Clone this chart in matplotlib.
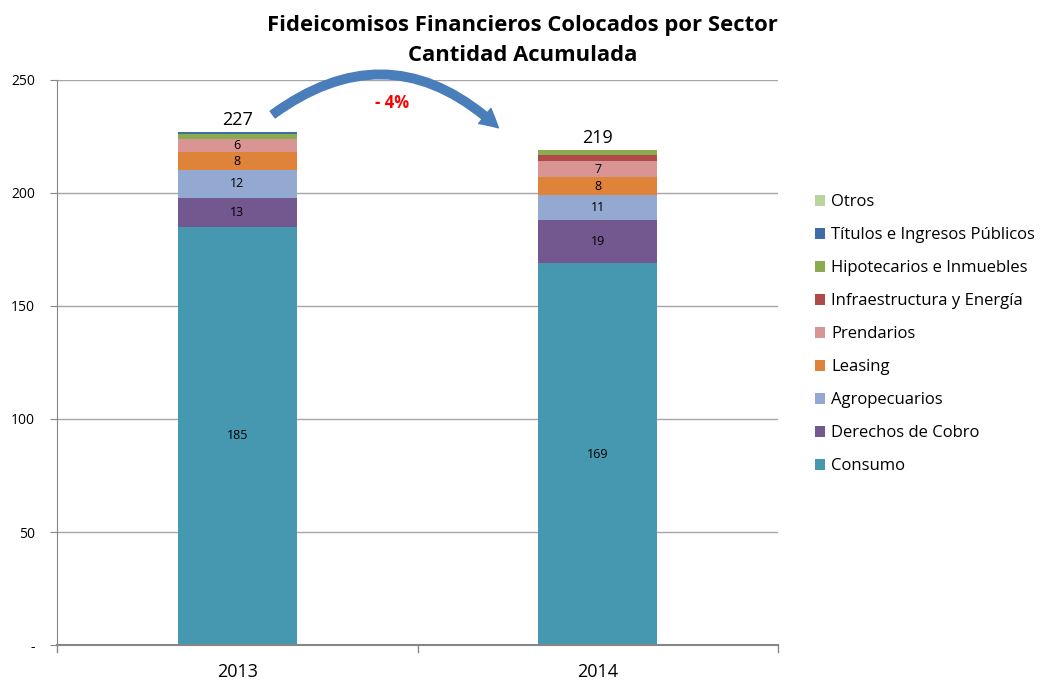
import matplotlib.pyplot as plt
from matplotlib.patches import FancyArrowPatch

plt.rcParams['font.family'] = ['Open Sans', 'DejaVu Sans']

# Datos
years = ['2013', '2014']
sectores = ['Consumo', 'Derechos de Cobro', 'Agropecuarios', 'Leasing', 'Prendarios',
            'Infraestructura y Energía', 'Hipotecarios e Inmuebles',
            'Títulos e Ingresos Públicos', 'Otros']
valores = {
    'Consumo': [185, 169],
    'Derechos de Cobro': [13, 19],
    'Agropecuarios': [12, 11],
    'Leasing': [8, 8],
    'Prendarios': [6, 7],
    'Infraestructura y Energía': [0, 3],
    'Hipotecarios e Inmuebles': [2, 2],
    'Títulos e Ingresos Públicos': [1, 0],
    'Otros': [0, 0],
}
totales = [227, 219]
colores = ['#4598B0', '#72588F', '#94A9D1', '#DF833B', '#D99594',
           '#AF4A48', '#8AAB4E', '#3E6CA8', '#B7D59C']

fig = plt.figure(figsize=(10.52, 6.81), dpi=100)
ax = fig.add_axes([57 / 1052, 36 / 681, 721 / 1052, 565 / 681])

x = [0, 1]
bottom = [0, 0]
handles = []
for s, c in zip(sectores, colores):
    vals = valores[s]
    b = ax.bar(x, vals, width=0.33, bottom=bottom, color=c, zorder=2, label=s)
    handles.append(b)
    for i in range(2):
        if vals[i] >= 5:
            ax.text(x[i], bottom[i] + vals[i] / 2, str(vals[i]), ha='center',
                    va='center', fontsize=9, color='black', zorder=3)
    bottom = [bottom[i] + vals[i] for i in range(2)]

for i in range(2):
    ax.text(x[i], totales[i] + 1.5, str(totales[i]), ha='center', va='bottom',
            fontsize=13, color='black')

ax.set_xlim(-0.5, 1.5)
ax.set_ylim(0, 250)
ax.set_yticks([0, 50, 100, 150, 200, 250])
ax.set_yticklabels(['-', '50', '100', '150', '200', '250'], fontsize=10)
ax.yaxis.grid(True, color='#A6A6A6', lw=1, zorder=0)
ax.set_xticks(x)
ax.set_xticklabels(years, fontsize=13)
ax.tick_params(axis='x', length=0, pad=13)
ax.tick_params(axis='y', length=5, color='#868686', pad=11)
for xb in [-0.5, 0.5, 1.5]:
    ax.plot([xb, xb], [0, -3], color='#868686', lw=1, clip_on=False)
for sp in ['top', 'right']:
    ax.spines[sp].set_visible(False)
ax.spines['left'].set_color('#868686')
ax.spines['bottom'].set_color('#868686')
ax.spines['bottom'].set_linewidth(1.5)

# Flecha de variacion
arrow = FancyArrowPatch((0.092, 234), (0.73, 228), connectionstyle='arc3,rad=-0.42',
                        arrowstyle='simple,head_width=14,head_length=13,tail_width=6',
                        color='#4A7EBB', zorder=4, clip_on=False)
ax.add_patch(arrow)
ax.text(0.43, 240, '- 4%', color='red', fontsize=12, fontweight='bold',
        ha='center', va='center')

fig.text(0.497, 0.978, 'Fideicomisos Financieros Colocados por Sector\nCantidad Acumulada',
         ha='center', va='top', fontsize=15.8, fontweight='bold', linespacing=1.55)

ax.legend(handles[::-1], sectores[::-1], loc='center left', bbox_to_anchor=(1.03, 0.55),
          frameon=False, fontsize=12, handlelength=0.6, handleheight=0.6,
          labelspacing=1.02, handletextpad=0.4)

fig.savefig('out.png', dpi=100)
